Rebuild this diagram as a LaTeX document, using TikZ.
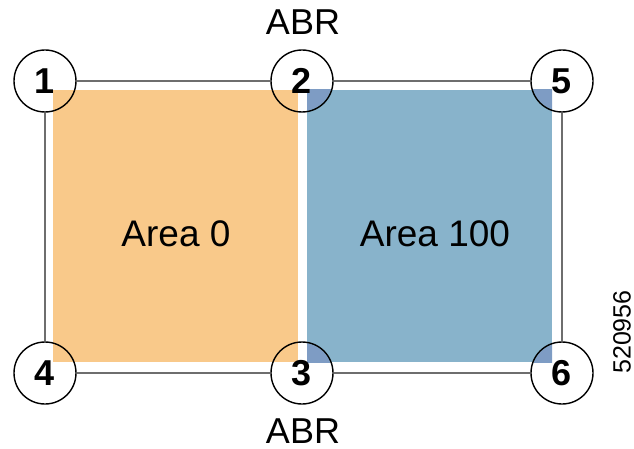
\documentclass[tikz,border=0pt]{standalone}
\usepackage{fontspec}
\setmainfont{Liberation Sans}
\definecolor{areaorange}{HTML}{F9C98A}
\definecolor{areablue}{HTML}{88B3CB}
\definecolor{overblue}{HTML}{7E9CC4}
\definecolor{linkgray}{HTML}{6E6E6E}
\begin{document}
\begin{tikzpicture}[x=1pt,y=-1pt,
  router/.style={circle,draw=black,line width=1.4pt,minimum size=62pt,inner sep=0pt,
    font=\fontsize{36}{36}\selectfont\bfseries},
  link/.style={draw=linkgray,line width=2.4pt},
  lbl/.style={font=\fontsize{36}{36}\selectfont,inner sep=0pt},
  arealbl/.style={font=\fontsize{37}{37}\selectfont,inner sep=0pt}]
\useasboundingbox (0,0) rectangle (634,449);
% areas
\fill[areaorange] (53,90) rectangle (298,362);
\fill[areablue] (307,90) rectangle (552,362);
\begin{scope}
  \clip (307,90) rectangle (552,362);
  \fill[overblue] (302,81) circle (30pt);
  \fill[overblue] (562,81) circle (30pt);
  \fill[overblue] (302,373) circle (30pt);
  \fill[overblue] (562,373) circle (30pt);
\end{scope}
% routers
\node[router] (r1) at (45,81) {1};
\node[router] (r2) at (302,81) {2};
\node[router] (r5) at (562,81) {5};
\node[router] (r4) at (45,373) {4};
\node[router] (r3) at (302,373) {3};
\node[router] (r6) at (562,373) {6};
% links
\draw[link] (r1) -- (r2);
\draw[link] (r2) -- (r5);
\draw[link] (r5) -- (r6);
\draw[link] (r6) -- (r3);
\draw[link] (r3) -- (r4);
\draw[link] (r4) -- (r1);
% labels
\node[arealbl] (a0) at (176,234) {Area 0};
\node[arealbl] (a100) at (435,234) {Area 100};
\node[lbl] (abrtop) at (303,22) {ABR};
\node[lbl] (abrbot) at (303,431) {ABR};
\node[font=\fontsize{25}{25}\selectfont,inner sep=0pt,rotate=90] (fig) at (622,332) {520956};
\end{tikzpicture}
\end{document}
